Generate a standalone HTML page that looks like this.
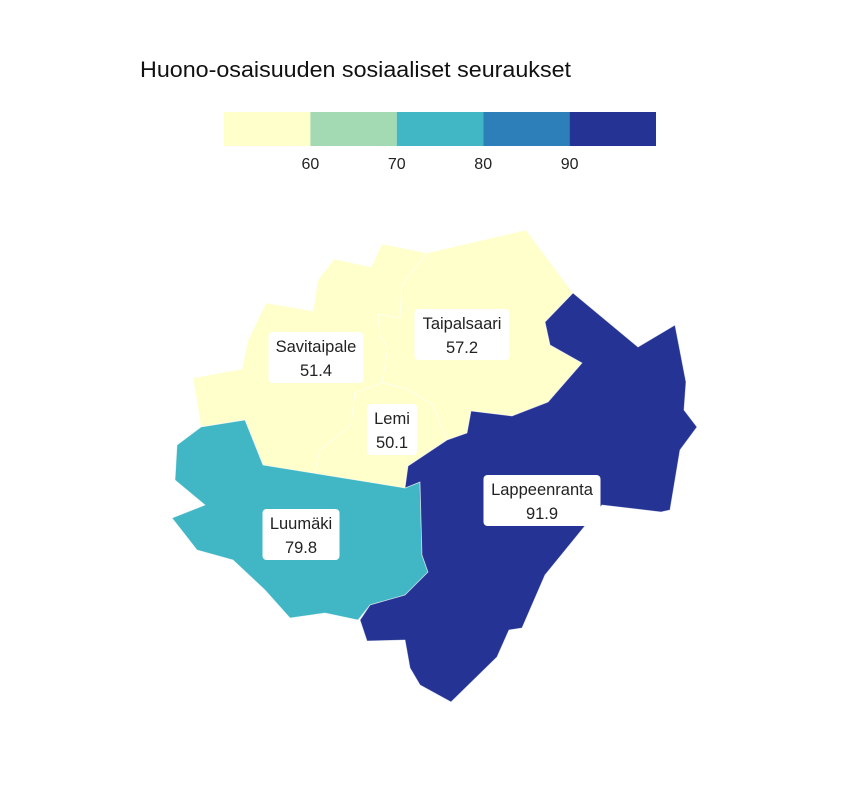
<!DOCTYPE html>
<html><head><meta charset="utf-8"><style>
body{margin:0;background:#fff;}
svg{display:block;font-family:"Liberation Sans",sans-serif;}
</style></head><body>
<svg id="chart" width="864" height="792" viewBox="0 0 864 792">
<rect width="864" height="792" fill="#fff"/>
<text x="140" y="77" font-size="22" textLength="431" lengthAdjust="spacingAndGlyphs" fill="#111">Huono-osaisuuden sosiaaliset seuraukset</text>
<g id="legend"></g>
<g id="map"></g>
<g id="labels"></g>
</svg>
<script>
const regions = ["Savitaipale","Taipalsaari","Lemi","Luumäki","Lappeenranta"];
const values = [51.4, 57.2, 50.1, 79.8, 91.9];
const breaks = [60, 70, 80, 90];
const binColors = ["#ffffcc","#a3dab4","#41b6c4","#2c7fb8","#253494"];
const tickLabels = ["60","70","80","90"];

const shapes = {
 "Savitaipale":"193,378 242,369 248,340 266,303 313,311 318,280 334,259 371,267 382,244 427,253 402,285 400,318 378,314 380,336 388,348 382,383 355,393 351,425 320,450 312,483 263,465 245,420 201,427",
 "Taipalsaari":"427,253 526,230 573,293 545,322 550,345 582,363 548,402 512,416 471,411 467,433 447,440 432,404 405,388 382,383 388,348 380,336 378,314 400,318 402,285",
 "Lemi":"382,383 405,388 432,404 447,440 432,450 408,466 405,488 312,483 320,450 351,425 355,393",
 "Luumäki":"201,427 245,420 263,465 405,488 420,482 422,555 428,572 405,595 370,605 358,620 325,613 290,618 265,590 233,560 197,550 172,518 205,505 175,480 177,445",
 "Lappeenranta":"573,293 638,347 675,325 686,382 684,410 697,427 680,450 670,510 661,512 602,505 545,575 522,628 509,630 497,657 451,702 420,685 410,668 405,640 367,641 360,620 370,605 405,595 428,572 422,555 420,482 405,488 408,466 432,450 447,440 467,433 471,411 512,416 548,402 582,363 550,345 545,322"
};
const labelPos = {"Savitaipale":[316,357],"Taipalsaari":[462,334],"Lemi":[392,429],"Luumäki":[301,534],"Lappeenranta":[542,500]};
const boxW = {"Savitaipale":95,"Taipalsaari":95,"Lemi":50,"Luumäki":77,"Lappeenranta":117};

const NS="http://www.w3.org/2000/svg";
function colorFor(v){let i=0;while(i<breaks.length&&v>=breaks[i])i++;return binColors[i];}
const lx0=224,lw=432,ly=112,lh=34;
const lmin=50,lmax=100;
const lxs=v=>lx0+(v-lmin)/(lmax-lmin)*lw;
const legend=document.getElementById('legend');
const edges=[lmin,...breaks,lmax];
for(let i=0;i<binColors.length;i++){
 const r=document.createElementNS(NS,'rect');
 r.setAttribute('x',lxs(edges[i]));r.setAttribute('y',ly);
 r.setAttribute('width',lxs(edges[i+1])-lxs(edges[i]));r.setAttribute('height',lh);
 r.setAttribute('fill',binColors[i]);
 
 
 legend.appendChild(r);
}
breaks.forEach((b,i)=>{
 const t=document.createElementNS(NS,'text');
 t.setAttribute('x',lxs(b));t.setAttribute('y',169);t.setAttribute('text-anchor','middle');
 t.setAttribute('font-size','16');t.setAttribute('fill','#222');t.textContent=tickLabels[i];
 
 
 legend.appendChild(t);
});
const map=document.getElementById('map'),labels=document.getElementById('labels');
regions.forEach((name,i)=>{
 const p=document.createElementNS(NS,'polygon');
 p.setAttribute('points',shapes[name]);
 p.setAttribute('fill',colorFor(values[i]));
 p.setAttribute('stroke','#fff');p.setAttribute('stroke-width','0.8');p.setAttribute('stroke-opacity','0.6');
 
 
 map.appendChild(p);
 const [cx,cy]=labelPos[name],w=boxW[name];
 const g=document.createElementNS(NS,'g');
 
 
 const r=document.createElementNS(NS,'rect');
 r.setAttribute('x',cx-w/2);r.setAttribute('y',cy-25);r.setAttribute('width',w);r.setAttribute('height',51);
 r.setAttribute('rx',4);r.setAttribute('fill','#fff');
 g.appendChild(r);
 const t1=document.createElementNS(NS,'text');
 t1.setAttribute('x',cx);t1.setAttribute('y',cy-5);t1.setAttribute('text-anchor','middle');
 t1.setAttribute('font-size','16.5');t1.setAttribute('fill','#222');t1.textContent=name;
 g.appendChild(t1);
 const t2=document.createElementNS(NS,'text');
 t2.setAttribute('x',cx);t2.setAttribute('y',cy+19);t2.setAttribute('text-anchor','middle');
 t2.setAttribute('font-size','16.5');t2.setAttribute('fill','#222');t2.textContent=values[i].toFixed(1);
 g.appendChild(t2);
 labels.appendChild(g);
});
</script>
</body></html>
